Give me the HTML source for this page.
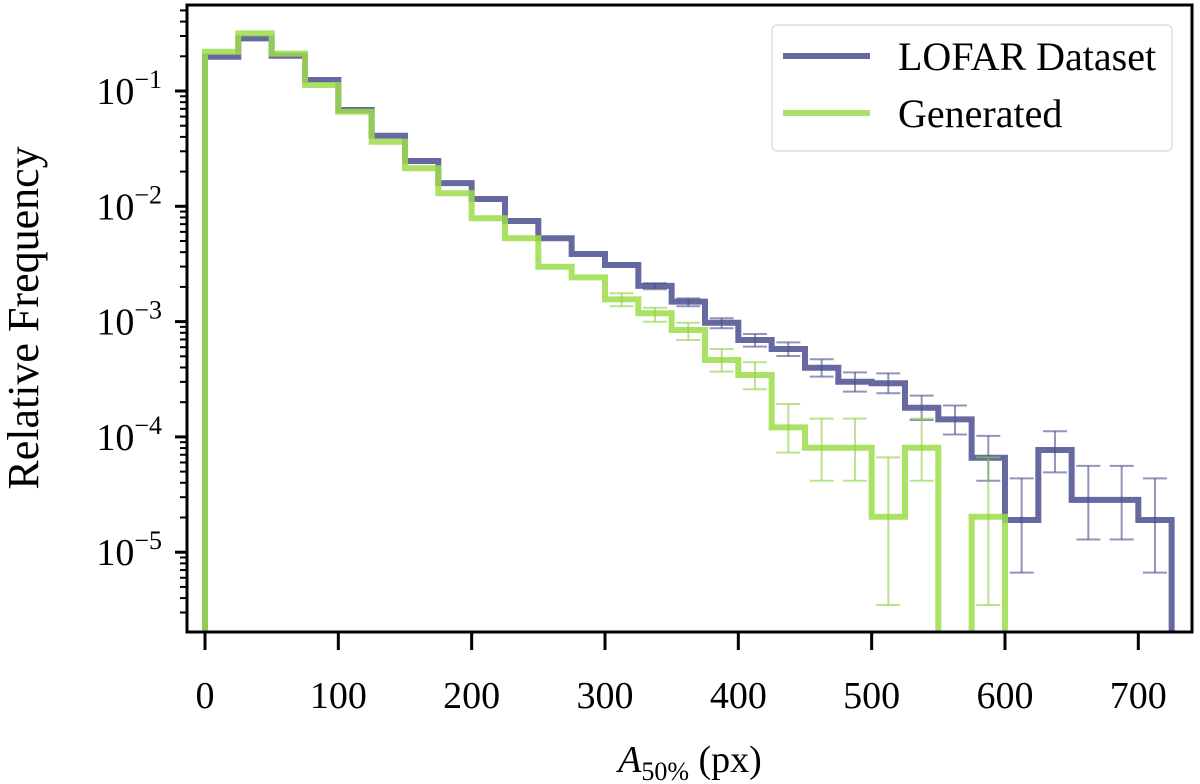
<!DOCTYPE html>
<html><head><meta charset="utf-8"><style>
body{margin:0;background:#fff}
svg{display:block}
text{font-family:"Liberation Serif",serif;fill:#000}
</style></head><body>
<svg id="chart" width="1200" height="784" viewBox="0 0 1200 784" xmlns="http://www.w3.org/2000/svg">
<g id="plot"></g>
<g id="axes"></g>
<g id="legend">
<rect x="772" y="25" width="400" height="126" rx="5" fill="#fff" fill-opacity="0.8" stroke="#ddd" stroke-width="1.5"/>
<line x1="783" y1="56" x2="870" y2="56" stroke="#4b4d8f" stroke-opacity="0.85" stroke-width="6"/>
<text x="898" y="70" font-size="40">LOFAR Dataset</text>
<line x1="783" y1="113" x2="870" y2="113" stroke="#9cdc4a" stroke-opacity="0.85" stroke-width="6"/>
<text x="898" y="127" font-size="40">Generated</text>
</g>
<text x="690" y="772" font-size="38" text-anchor="middle"><tspan font-style="italic">A</tspan><tspan font-size="26" dy="8">50%</tspan><tspan dy="-8"> (px)</tspan></text>
<text transform="translate(38,318) rotate(-90)" font-size="44" text-anchor="middle">Relative Frequency</text>
</svg>
<script>
const binWidth = 25;
const lofarValues = [0.198,0.286,0.202,0.1246,0.0684,0.0409,0.0247,0.0159,0.01156,0.00746,0.00528,0.00386,0.0031,0.00204,0.00149,0.000978,0.000692,0.000579,0.000398,0.000301,0.000292,0.000179,0.000142,0.000066,0.000019,0.000077,0.0000284,0.0000284,0.000019];
const generatedValues = [0.219,0.316,0.211,0.1127,0.0661,0.0363,0.02136,0.01297,0.00787,0.00528,0.00299,0.00242,0.00156,0.00118,0.000845,0.000464,0.000344,0.000121,0.0000806,0.0000806,0.0000203,0.0000806,0,0.0000203,0,0,0,0,0];
const lofarErrHi = [null,null,null,null,null,null,null,null,null,null,null,null,null,0.00215,0.00159,0.00107,0.00078,0.000661,0.000471,0.000363,0.000356,0.000228,0.000187,0.000102,0.0000437,0.000112,0.000056,0.000056,0.0000437];
const lofarErrLo = [null,null,null,null,null,null,null,null,null,null,null,null,null,0.00191,0.00136,0.000875,0.000606,0.000503,0.000333,0.000247,0.000239,0.00014,0.000105,0.0000417,0.00000665,0.0000493,0.0000129,0.0000129,0.00000665];
const genErrHi = [null,null,null,null,null,null,null,null,null,null,null,null,0.00176,0.00132,0.000978,0.000578,0.000444,0.000193,0.000144,0.000144,0.0000665,0.000144,null,0.0000665,null,null,null,null,null];
const genErrLo = [null,null,null,null,null,null,null,null,null,null,null,null,0.00136,0.000998,0.000692,0.000368,0.000259,0.000073,0.0000417,0.0000417,0.00000348,0.0000417,null,0.00000348,null,null,null,null,null];
const xTicks = [0,100,200,300,400,500,600,700];
const yTickExps = [-1,-2,-3,-4,-5];

const NS="http://www.w3.org/2000/svg";
const L=187,R=1192,T=5,B=632;
const X=v=>205+v*1.3333;
const Y=v=>{ if(!(v>0)) return B+20; return 91+(-1-Math.log10(v))*115.3; };
const plot=document.getElementById('plot'), axes=document.getElementById('axes');
function mk(tag,attrs,parent){const e=document.createElementNS(NS,tag);for(const k in attrs)e.setAttribute(k,attrs[k]);parent.appendChild(e);return e;}

const clip=mk('clipPath',{id:'clip'},document.getElementById('chart'));
mk('rect',{x:L,y:T,width:R-L,height:B-T},clip);
plot.setAttribute('clip-path','url(#clip)');

function steps(vals,color,name){
  let d='M'+X(0)+','+(B+20);
  vals.forEach((v,i)=>{const y=Y(v);d+=' L'+X(i*binWidth)+','+y+' L'+X((i+1)*binWidth)+','+y;});
  d+=' L'+X(vals.length*binWidth)+','+(B+20);
  const p=mk('path',{d:d,fill:'none',stroke:color,'stroke-width':6,'stroke-opacity':0.85,'stroke-linejoin':'miter'},plot);
  
  
}
function errs(hi,lo,color,name){
  hi.forEach((h,i)=>{ if(h==null) return;
    const cx=X((i+0.5)*binWidth), y1=Y(h), y2=Y(lo[i]);
    const g=mk('g',{stroke:color,'stroke-width':2,'stroke-opacity':0.6},plot);
    
    
    mk('line',{x1:cx,y1:y1,x2:cx,y2:y2},g);
    mk('line',{x1:cx-12,y1:y1,x2:cx+12,y2:y1},g);
    mk('line',{x1:cx-12,y1:y2,x2:cx+12,y2:y2},g);
  });
}
steps(lofarValues,'#4b4d8f','lofar-histogram');
errs(lofarErrHi,lofarErrLo,'#4b4d8f','lofar-error-bar');
steps(generatedValues,'#9cdc4a','generated-histogram');
errs(genErrHi,genErrLo,'#8fd040','generated-error-bar');

const frame=mk('rect',{x:L,y:T,width:R-L,height:B-T,fill:'none',stroke:'#000','stroke-width':3},axes);


xTicks.forEach(v=>{
  const x=X(v);
  mk('line',{x1:x,y1:B,x2:x,y2:B+18,stroke:'#000','stroke-width':3},axes);
  const t=mk('text',{x:x,y:708,'font-size':38,'text-anchor':'middle'},axes);
  t.textContent=v;
  
  
});
for(let e=-6;e<=0;e++){
  for(let m=1;m<10;m++){
    const v=m*Math.pow(10,e), y=Y(v);
    if(y<T||y>B) continue;
    mk('line',{x1:L,y1:y,x2:L-(m===1?12:7),y2:y,stroke:'#000','stroke-width':m===1?3:2},axes);
  }
}
yTickExps.forEach(e=>{
  const y=Y(Math.pow(10,e));
  const t=mk('text',{x:162,y:y+13,'font-size':38,'text-anchor':'end'},axes);
  
  
  t.innerHTML='10<tspan font-size="26" dy="-16">\u2212'+(-e)+'</tspan>';
});
</script>
</body></html>
